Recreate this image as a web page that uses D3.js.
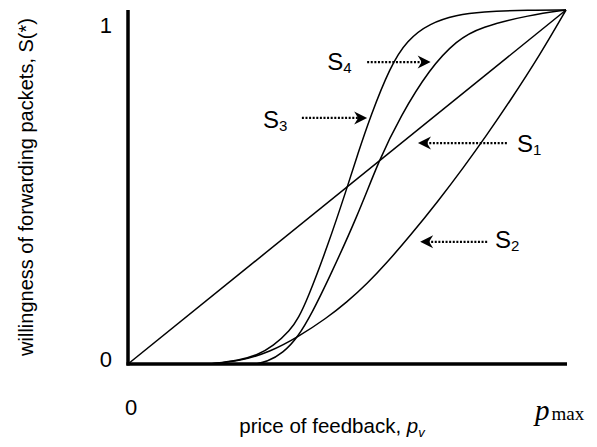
<!DOCTYPE html>
<html>
<head>
<meta charset="utf-8">
<script src="https://cdn.jsdelivr.net/npm/d3@7"></script>
<style>
  body { margin: 0; background: #fff; }
  svg { display: block; font-family: Arial, "Liberation Sans", sans-serif; }
</style>
</head>
<body>
<div id="chart"></div>
<script>
// price p_v / p_max  vs  willingness S
const s1 = [[0, 0], [1, 1]];
const s2 = [[0.187, 0], [0.256, 0.008], [0.324, 0.034], [0.388, 0.076], [0.454, 0.13],
  [0.5, 0.175], [0.546, 0.227], [0.591, 0.286], [0.644, 0.362], [0.708, 0.46],
  [0.765, 0.553], [0.822, 0.652], [0.868, 0.735], [0.941, 0.874], [1, 1]];
const s3 = [[0.187, 0], [0.256, 0.011], [0.295, 0.025], [0.331, 0.05], [0.37, 0.094],
  [0.39, 0.132], [0.409, 0.181], [0.455, 0.33], [0.5, 0.497], [0.525, 0.595],
  [0.553, 0.698], [0.598, 0.839], [0.637, 0.915], [0.689, 0.963], [0.751, 0.986],
  [0.804, 0.995], [0.918, 1], [1, 1]];
const s4 = [[0.29, 0], [0.317, 0.006], [0.354, 0.031], [0.388, 0.076], [0.42, 0.144],
  [0.457, 0.237], [0.523, 0.415], [0.573, 0.576], [0.621, 0.698], [0.689, 0.835],
  [0.751, 0.915], [0.804, 0.952], [0.918, 0.986], [1, 1]];
const curves = [s1, s2, s3, s4];

// curve labels: subscript, label spot, arrow start, arrow tip (data units)
const labels = [
  {sub: "4", at: [0.455, 0.83], from: [0.546, 0.853], to: [0.691, 0.853]},
  {sub: "3", at: [0.308, 0.667], from: [0.397, 0.695], to: [0.546, 0.695]},
  {sub: "1", at: [0.888, 0.599], from: [0.865, 0.624], to: [0.662, 0.624]},
  {sub: "2", at: [0.838, 0.328], from: [0.82, 0.345], to: [0.667, 0.345]}
];

const width = 597, height = 447;

const x = d3.scaleLinear().domain([0, 1]).range([128, 566]);
const y = d3.scaleLinear().domain([0, 1]).range([364, 10]);

const svg = d3.select("#chart").append("svg")
    .attr("width", width)
    .attr("height", height);

const line = d3.line()
    .x(d => x(d[0]))
    .y(d => y(d[1]))
    .curve(d3.curveBasis);

svg.append("g")
  .selectAll("path")
  .data(curves)
  .join("path")
    .attr("fill", "none")
    .attr("stroke", "#000")
    .attr("stroke-width", 1.5)
    .attr("stroke-linejoin", "round")
    .attr("d", line);

// axes
svg.append("line")
    .attr("x1", x(0)).attr("x2", x(0))
    .attr("y1", y(1)).attr("y2", y(0) + 1.5)
    .attr("stroke", "#000").attr("stroke-width", 3.5);
svg.append("line")
    .attr("x1", x(0) - 1.5).attr("x2", x(1) + 1)
    .attr("y1", y(0)).attr("y2", y(0))
    .attr("stroke", "#000").attr("stroke-width", 3.5);

// tick labels
svg.append("text").attr("x", 112).attr("y", y(1) + 23)
    .attr("text-anchor", "end").attr("font-size", 22).text("1");
svg.append("text").attr("x", 112).attr("y", y(0) + 3)
    .attr("text-anchor", "end").attr("font-size", 22).text("0");
svg.append("text").attr("x", x(0) + 3).attr("y", 415)
    .attr("text-anchor", "middle").attr("font-size", 22).text("0");

const pmax = svg.append("text").attr("x", 535).attr("y", 420)
    .attr("font-family", "'Liberation Serif', 'Times New Roman', serif");
pmax.append("tspan").attr("font-style", "italic").attr("font-size", 29).text("p");
pmax.append("tspan").attr("font-size", 19).attr("dx", 2).text("max");

// axis titles
const xt = svg.append("text").attr("x", 332).attr("y", 433)
    .attr("text-anchor", "middle").attr("font-size", 20.5);
xt.append("tspan").text("price of feedback, ");
xt.append("tspan").attr("font-style", "italic").text("p");
xt.append("tspan").attr("font-style", "italic").attr("font-size", 13).attr("dy", 4).text("v");

svg.append("text")
    .attr("transform", "translate(33,187) rotate(-90)")
    .attr("text-anchor", "middle")
    .attr("font-size", 20)
    .text("willingness of forwarding packets, S(*)");

// dotted arrows with labels
const ann = svg.append("g").selectAll("g").data(labels).join("g");

ann.append("line")
    .attr("x1", d => x(d.from[0]))
    .attr("y1", d => y(d.from[1]))
    .attr("x2", d => x(d.to[0]) + (d.to[0] > d.from[0] ? -8 : 8))
    .attr("y2", d => y(d.to[1]))
    .attr("stroke", "#000")
    .attr("stroke-width", 2.2)
    .attr("stroke-dasharray", "2,1.6");

ann.append("path")
    .attr("transform", d => {
      const dir = d.to[0] > d.from[0] ? 0 : 180;
      return `translate(${x(d.to[0])},${y(d.to[1])}) rotate(${dir})`;
    })
    .attr("d", "M0,0 L-13,-6.5 L-9,0 L-13,6.5 Z")
    .attr("fill", "#000");

const lt = ann.append("text")
    .attr("x", d => x(d.at[0]))
    .attr("y", d => y(d.at[1]))
    .attr("font-size", 24);
lt.append("tspan").text("S");
lt.append("tspan").attr("font-size", 15).attr("dy", 3).text(d => d.sub);
</script>
</body>
</html>
